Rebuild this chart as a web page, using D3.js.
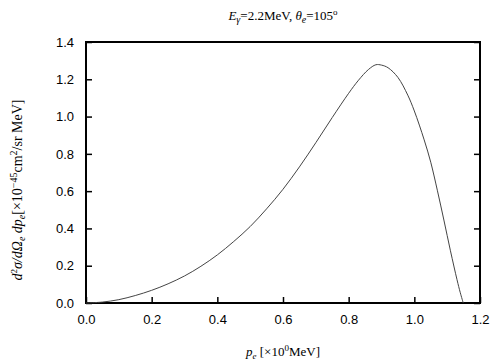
<!doctype html>
<html>
<head>
<script type='text/javascript' src='https://d3js.org/d3.v7.min.js'></script>
<style>
body { margin: 0; background: #fff; }
</style>
</head>
<body>
<script>
var width = 504, height = 360;
// momentum p_e (MeV) and cross section values
var pe = [0.0, 0.05, 0.1, 0.15, 0.2, 0.25, 0.3, 0.35, 0.4, 0.45, 0.5, 0.55, 0.6, 0.65, 0.7, 0.75, 0.8, 0.83, 0.86, 0.883, 0.9, 0.92, 0.95, 0.98, 1.0, 1.03, 1.05, 1.07, 1.09, 1.11, 1.13, 1.14, 1.149];
var xsec = [0.0, 0.005, 0.018, 0.04, 0.068, 0.103, 0.145, 0.197, 0.258, 0.33, 0.41, 0.505, 0.61, 0.73, 0.86, 0.995, 1.125, 1.195, 1.252, 1.278, 1.276, 1.262, 1.21, 1.115, 1.03, 0.875, 0.755, 0.605, 0.445, 0.28, 0.125, 0.055, 0.0];
var xTicks = [0.0, 0.2, 0.4, 0.6, 0.8, 1.0, 1.2];
var yTicks = [0.0, 0.2, 0.4, 0.6, 0.8, 1.0, 1.2, 1.4];

var m = {left: 86, right: 24, top: 42, bottom: 57};
var svg = d3.select('body').append('svg').attr('width', width).attr('height', height);
var x = d3.scaleLinear().domain([0, 1.2]).range([m.left, width - m.right]);
var y = d3.scaleLinear().domain([0, 1.4]).range([height - m.bottom, m.top]);

var tickFont = '13px "Liberation Sans", Arial, sans-serif';

// bottom axis (ticks inward)
var xa = svg.append('g').attr('transform', 'translate(0,' + y(0) + ')')
  .call(d3.axisBottom(x).tickValues(xTicks).tickFormat(d3.format('.1f')).tickSizeInner(-6).tickSizeOuter(0).tickPadding(12));
// left axis
var ya = svg.append('g').attr('transform', 'translate(' + x(0) + ',0)')
  .call(d3.axisLeft(y).tickValues(yTicks).tickFormat(d3.format('.1f')).tickSizeInner(-6).tickSizeOuter(0).tickPadding(12));
// right axis mirror ticks
var ra = svg.append('g').attr('transform', 'translate(' + x(1.2) + ',0)')
  .call(d3.axisRight(y).tickValues(yTicks).tickFormat('').tickSizeInner(-6).tickSizeOuter(0));
[xa, ya, ra].forEach(function(g) {
  g.select('.domain').remove();
  g.selectAll('line').attr('stroke', '#000').attr('stroke-width', 1.5);
  g.selectAll('text').style('font', tickFont).attr('fill', '#000');
});

// frame
svg.append('rect').attr('x', x(0)).attr('y', y(1.4))
  .attr('width', x(1.2) - x(0)).attr('height', y(0) - y(1.4))
  .attr('fill', 'none').attr('stroke', '#000').attr('stroke-width', 2);

// curve
var line = d3.line().x(function(d, i) { return x(pe[i]); }).y(function(d) { return y(d); }).curve(d3.curveCatmullRom.alpha(0.5));
svg.append('path').datum(xsec).attr('d', line)
  .attr('fill', 'none').attr('stroke', '#444').attr('stroke-width', 1);

// title
var serif = '"Liberation Serif", "Times New Roman", serif';
var t = svg.append('text').attr('x', (x(0) + x(1.2)) / 2).attr('y', 20)
  .attr('text-anchor', 'middle').style('font-family', serif).style('font-size', '13px');
t.append('tspan').style('font-style', 'italic').text('E');
t.append('tspan').style('font-style', 'italic').style('font-size', '10px').attr('dy', 3).text('γ');
t.append('tspan').attr('dy', -3).text('=2.2MeV,  ');
t.append('tspan').style('font-style', 'italic').text('θ');
t.append('tspan').style('font-style', 'italic').style('font-size', '10px').attr('dy', 3).text('e');
t.append('tspan').attr('dy', -3).text('=105');
t.append('tspan').style('font-size', '9px').attr('dy', -5).text('o');

// x label
var xl = svg.append('text').attr('x', (x(0) + x(1.2)) / 2).attr('y', 356)
  .attr('text-anchor', 'middle').style('font-family', serif).style('font-size', '13px');
xl.append('tspan').style('font-style', 'italic').text('p');
xl.append('tspan').style('font-style', 'italic').style('font-size', '9px').attr('dy', 3).text('e');
xl.append('tspan').attr('dy', -3).text(' [×10');
xl.append('tspan').style('font-size', '9px').attr('dy', -5).text('0');
xl.append('tspan').attr('dy', 5).text('MeV]');

// y label
var yl = svg.append('text').attr('transform', 'translate(22,190) rotate(-90)')
  .attr('text-anchor', 'middle').style('font-family', serif).style('font-size', '14px');
yl.append('tspan').style('font-style', 'italic').text('d');
yl.append('tspan').style('font-size', '9px').attr('dy', -5).text('2');
yl.append('tspan').style('font-style', 'italic').attr('dy', 5).text('σ/dΩ');
yl.append('tspan').style('font-style', 'italic').style('font-size', '10px').attr('dy', 3).text('e');
yl.append('tspan').style('font-style', 'italic').attr('dy', -3).text(' dp');
yl.append('tspan').style('font-style', 'italic').style('font-size', '10px').attr('dy', 3).text('e');
yl.append('tspan').attr('dy', -3).text('[×10');
yl.append('tspan').style('font-size', '10px').attr('dy', -5).text('−45');
yl.append('tspan').attr('dy', 5).text('cm');
yl.append('tspan').style('font-size', '10px').attr('dy', -5).text('2');
yl.append('tspan').attr('dy', 5).text('/sr MeV]');
</script>
</body>
</html>
